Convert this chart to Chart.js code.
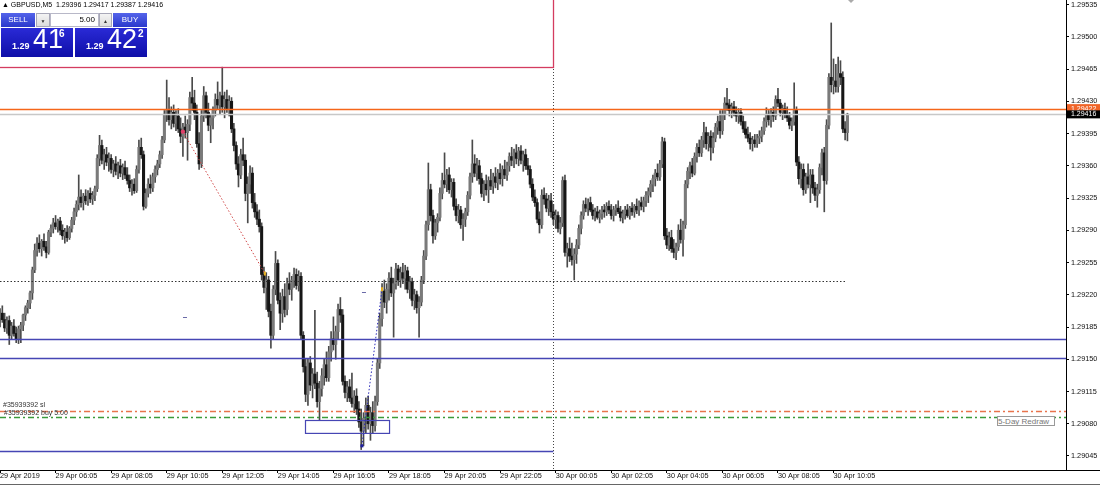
<!DOCTYPE html>
<html>
<head>
<meta charset="utf-8">
<title>GBPUSD,M5</title>
<script src="https://cdn.jsdelivr.net/npm/chart.js@4.4.1/dist/chart.umd.min.js"></script>
<style>
  body { margin: 0; background: #fff; }
  #wrap { position: relative; width: 1100px; height: 485px; overflow: hidden; font-family: "Liberation Sans", Arial, sans-serif; }
  #c { position: absolute; left: 0; top: 0; }
  .t { position: absolute; white-space: nowrap; }
  #hdr { left: 2px; top: 0; font-size: 7px; line-height: 10px; color: #000; }
  .btn { position: absolute; top: 13px; height: 14px; line-height: 14px; font-size: 8px; text-align: center; }
  .blue { background: linear-gradient(#5464ea, #2a38cc); color: #fff; }
  .grey { background: linear-gradient(#f4f4f4, #dcdcdc); color: #333; border: 1px solid #a8a8b8; box-sizing: border-box; font-size: 5px; }
  .pbox { position: absolute; top: 28px; width: 72px; height: 29px; background: linear-gradient(#2a2ad6, #0e0ea8); color: #fff; }
  .pbox .s { position: absolute; left: 11px; top: 13px; font-size: 9px; font-weight: bold; line-height: 10px; }
  .pbox .b { position: absolute; left: 32px; top: -2px; font-size: 27px; line-height: 27px; }
  .pbox .p { position: absolute; top: 1px; font-size: 10px; line-height: 10px; font-weight: bold; }
  #redraw { left: 997px; top: 416px; width: 58px; height: 10px; border: 1px solid #999; box-sizing: border-box; font-size: 8px; line-height: 9px; color: #777; background: #fff; overflow: hidden; }
  #foot { position: absolute; left: 0; top: 484px; width: 1100px; height: 1px; background: #666; }
</style>
</head>
<body>
<div id="wrap">
  <canvas id="c" width="1100" height="485"></canvas>
  <div class="t" id="hdr">▲ GBPUSD,M5&nbsp; 1.29396 1.29417 1.29387 1.29416</div>
  <div class="btn blue" style="left:1px;width:34px;">SELL</div>
  <div class="btn grey" style="left:36px;width:14px;">▼</div>
  <div class="btn" style="left:50px;width:49px;background:#fff;border:1px solid #b8b8c8;box-sizing:border-box;text-align:right;padding-right:3px;color:#000;line-height:12px;">5.00</div>
  <div class="btn grey" style="left:99px;width:13px;">▲</div>
  <div class="btn blue" style="left:113px;width:34px;">BUY</div>
  <div class="pbox" style="left:1px;"><span class="s">1.29</span><span class="b">41</span><span class="p" style="left:58px;">6</span></div>
  <div class="pbox" style="left:75px;"><span class="s">1.29</span><span class="b">42</span><span class="p" style="left:63px;">2</span></div>
  <div class="t" id="redraw">5-Day Redraw</div>
  <div id="foot"></div>
</div>
<script>
// GBPUSD M5, 29 Apr 2019 04:05 -> 30 Apr 2019 10:35 (one entry per bar)
const opens = [
1.29195,1.29200,1.29193,1.29184,1.29192,1.29176,1.29186,1.29178,1.29172,1.29183,
1.29187,1.29198,1.29206,1.29211,1.29222,1.29247,1.29268,1.29276,1.29270,1.29278,
1.29272,1.29266,1.29288,1.29292,1.29298,1.29294,1.29300,1.29290,1.29284,1.29288,
1.29282,1.29292,1.29301,1.29310,1.29318,1.29326,1.29320,1.29327,1.29322,1.29330,
1.29324,1.29328,1.29335,1.29368,1.29382,1.29366,1.29372,1.29364,1.29368,1.29356,
1.29362,1.29354,1.29360,1.29352,1.29358,1.29350,1.29344,1.29336,1.29340,1.29333,
1.29356,1.29380,1.29372,1.29316,1.29330,1.29340,1.29336,1.29348,1.29356,1.29362,
1.29372,1.29388,1.29416,1.29420,1.29410,1.29418,1.29406,1.29414,1.29400,1.29392,
1.29402,1.29396,1.29405,1.29434,1.29428,1.29418,1.29384,1.29362,1.29414,1.29436,
1.29418,1.29404,1.29412,1.29420,1.29432,1.29426,1.29436,1.29424,1.29432,1.29422,
1.29430,1.29400,1.29382,1.29362,1.29350,1.29372,1.29366,1.29330,1.29340,1.29352,
1.29320,1.29310,1.29302,1.29294,1.29242,1.29228,1.29236,1.29202,1.29176,1.29226,
1.29254,1.29214,1.29200,1.29218,1.29204,1.29232,1.29226,1.29236,1.29242,1.29230,
1.29240,1.29176,1.29142,1.29112,1.29146,1.29122,1.29134,1.29124,1.29104,1.29118,
1.29132,1.29144,1.29130,1.29158,1.29172,1.29166,1.29180,1.29204,1.29198,1.29126,
1.29114,1.29120,1.29108,1.29102,1.29110,1.29096,1.29082,1.29072,1.29086,1.29100,
1.29080,1.29092,1.29078,1.29104,1.29146,1.29194,1.29224,1.29212,1.29226,1.29238,
1.29222,1.29232,1.29248,1.29236,1.29244,1.29238,1.29246,1.29226,1.29234,1.29214,
1.29220,1.29206,1.29212,1.29236,1.29262,1.29296,1.29334,1.29306,1.29284,1.29298,
1.29304,1.29330,1.29344,1.29340,1.29350,1.29334,1.29342,1.29316,1.29306,1.29312,
1.29296,1.29302,1.29310,1.29328,1.29348,1.29362,1.29352,1.29360,1.29346,1.29330,
1.29340,1.29334,1.29344,1.29338,1.29348,1.29342,1.29352,1.29346,1.29356,1.29350,
1.29360,1.29370,1.29366,1.29374,1.29368,1.29376,1.29366,1.29372,1.29360,1.29356,
1.29340,1.29326,1.29320,1.29302,1.29296,1.29328,1.29324,1.29314,1.29322,1.29310,
1.29302,1.29306,1.29292,1.29298,1.29344,1.29266,1.29270,1.29262,1.29258,1.29264,
1.29274,1.29292,1.29306,1.29318,1.29314,1.29320,1.29312,1.29306,1.29310,1.29304,
1.29308,1.29312,1.29310,1.29316,1.29312,1.29306,1.29312,1.29314,1.29310,1.29304,
1.29308,1.29312,1.29306,1.29314,1.29310,1.29316,1.29312,1.29320,1.29316,1.29322,
1.29328,1.29332,1.29340,1.29346,1.29352,1.29348,1.29362,1.29386,1.29284,1.29274,
1.29282,1.29270,1.29266,1.29272,1.29290,1.29280,1.29296,1.29340,1.29354,1.29360,
1.29352,1.29370,1.29380,1.29374,1.29388,1.29396,1.29384,1.29392,1.29380,1.29390,
1.29402,1.29408,1.29398,1.29416,1.29428,1.29426,1.29420,1.29424,1.29418,1.29414,
1.29418,1.29408,1.29400,1.29394,1.29390,1.29384,1.29388,1.29384,1.29390,1.29392,
1.29398,1.29408,1.29416,1.29410,1.29418,1.29414,1.29432,1.29428,1.29418,1.29422,
1.29416,1.29412,1.29404,1.29408,1.29420,1.29364,1.29346,1.29356,1.29334,1.29348,
1.29340,1.29350,1.29336,1.29328,1.29334,1.29358,1.29374,1.29344,1.29404,1.29456,
1.29448,1.29452,1.29446,1.29460,1.29456,1.29400,1.29396
];
const highs = [
1.29205,1.29208,1.29200,1.29196,1.29197,1.29190,1.29193,1.29185,1.29186,1.29190,
1.29199,1.29208,1.29214,1.29224,1.29250,1.29275,1.29282,1.29285,1.29280,1.29286,
1.29278,1.29290,1.29296,1.29303,1.29306,1.29302,1.29304,1.29296,1.29292,1.29295,
1.29294,1.29304,1.29314,1.29322,1.29350,1.29334,1.29330,1.29334,1.29333,1.29336,
1.29332,1.29338,1.29372,1.29393,1.29388,1.29378,1.29380,1.29374,1.29372,1.29366,
1.29370,1.29364,1.29367,1.29362,1.29365,1.29358,1.29350,1.29345,1.29346,1.29360,
1.29388,1.29390,1.29376,1.29335,1.29346,1.29350,1.29352,1.29360,1.29366,1.29376,
1.29392,1.29420,1.29453,1.29434,1.29424,1.29426,1.29420,1.29422,1.29412,1.29406,
1.29414,1.29410,1.29440,1.29456,1.29442,1.29426,1.29396,1.29420,1.29446,1.29440,
1.29428,1.29416,1.29424,1.29438,1.29451,1.29440,1.29467,1.29440,1.29442,1.29436,
1.29434,1.29406,1.29386,1.29370,1.29378,1.29390,1.29372,1.29348,1.29360,1.29358,
1.29330,1.29318,1.29312,1.29298,1.29250,1.29244,1.29240,1.29210,1.29230,1.29267,
1.29258,1.29222,1.29226,1.29232,1.29238,1.29244,1.29240,1.29249,1.29248,1.29246,
1.29244,1.29180,1.29150,1.29150,1.29153,1.29140,1.29203,1.29136,1.29126,1.29140,
1.29150,1.29158,1.29164,1.29180,1.29196,1.29186,1.29210,1.29217,1.29204,1.29132,
1.29126,1.29128,1.29135,1.29116,1.29118,1.29104,1.29096,1.29092,1.29108,1.29110,
1.29098,1.29104,1.29110,1.29150,1.29200,1.29232,1.29236,1.29232,1.29244,1.29250,
1.29238,1.29254,1.29252,1.29250,1.29254,1.29252,1.29250,1.29240,1.29238,1.29226,
1.29224,1.29218,1.29240,1.29268,1.29300,1.29363,1.29340,1.29312,1.29302,1.29308,
1.29336,1.29352,1.29374,1.29356,1.29358,1.29346,1.29346,1.29324,1.29318,1.29316,
1.29308,1.29314,1.29332,1.29352,1.29388,1.29372,1.29368,1.29366,1.29352,1.29344,
1.29350,1.29348,1.29356,1.29352,1.29358,1.29356,1.29362,1.29360,1.29366,1.29364,
1.29374,1.29380,1.29378,1.29383,1.29380,1.29382,1.29376,1.29378,1.29368,1.29360,
1.29346,1.29334,1.29324,1.29310,1.29334,1.29336,1.29330,1.29328,1.29330,1.29318,
1.29312,1.29310,1.29304,1.29348,1.29350,1.29276,1.29282,1.29276,1.29270,1.29280,
1.29296,1.29310,1.29322,1.29325,1.29324,1.29326,1.29318,1.29314,1.29316,1.29312,
1.29316,1.29318,1.29320,1.29322,1.29318,1.29316,1.29318,1.29322,1.29316,1.29312,
1.29316,1.29318,1.29316,1.29320,1.29318,1.29324,1.29322,1.29326,1.29326,1.29332,
1.29336,1.29344,1.29350,1.29356,1.29362,1.29366,1.29391,1.29390,1.29292,1.29288,
1.29290,1.29280,1.29276,1.29296,1.29302,1.29300,1.29344,1.29358,1.29364,1.29368,
1.29374,1.29384,1.29388,1.29392,1.29407,1.29402,1.29396,1.29398,1.29396,1.29406,
1.29414,1.29420,1.29420,1.29434,1.29444,1.29432,1.29428,1.29430,1.29424,1.29422,
1.29422,1.29414,1.29408,1.29402,1.29396,1.29392,1.29394,1.29394,1.29398,1.29402,
1.29412,1.29423,1.29420,1.29422,1.29424,1.29436,1.29444,1.29432,1.29426,1.29428,
1.29424,1.29418,1.29412,1.29450,1.29424,1.29370,1.29362,1.29362,1.29352,1.29362,
1.29356,1.29356,1.29342,1.29340,1.29362,1.29378,1.29380,1.29410,1.29460,1.29515,
1.29476,1.29470,1.29478,1.29474,1.29462,1.29408,1.29417
];
const lows = [
1.29185,1.29190,1.29180,1.29178,1.29166,1.29172,1.29175,1.29168,1.29167,1.29168,
1.29181,1.29192,1.29200,1.29205,1.29215,1.29244,1.29262,1.29266,1.29262,1.29268,
1.29260,1.29264,1.29283,1.29287,1.29291,1.29288,1.29285,1.29280,1.29276,1.29278,
1.29280,1.29288,1.29296,1.29305,1.29312,1.29315,1.29312,1.29318,1.29317,1.29320,
1.29318,1.29322,1.29332,1.29360,1.29362,1.29356,1.29360,1.29354,1.29352,1.29348,
1.29350,1.29346,1.29348,1.29345,1.29346,1.29340,1.29332,1.29328,1.29330,1.29331,
1.29352,1.29368,1.29312,1.29314,1.29326,1.29330,1.29332,1.29342,1.29350,1.29358,
1.29368,1.29385,1.29408,1.29404,1.29400,1.29402,1.29398,1.29396,1.29385,1.29370,
1.29390,1.29366,1.29398,1.29420,1.29410,1.29380,1.29356,1.29358,1.29408,1.29412,
1.29398,1.29385,1.29400,1.29414,1.29422,1.29416,1.29418,1.29412,1.29418,1.29414,
1.29396,1.29376,1.29356,1.29337,1.29346,1.29360,1.29322,1.29298,1.29330,1.29314,
1.29304,1.29296,1.29288,1.29236,1.29222,1.29204,1.29196,1.29162,1.29172,1.29220,
1.29210,1.29182,1.29190,1.29196,1.29198,1.29220,1.29214,1.29228,1.29226,1.29224,
1.29172,1.29136,1.29104,1.29100,1.29116,1.29108,1.29118,1.29098,1.29084,1.29110,
1.29122,1.29126,1.29126,1.29148,1.29160,1.29150,1.29172,1.29190,1.29122,1.29108,
1.29104,1.29104,1.29098,1.29092,1.29090,1.29076,1.29052,1.29056,1.29070,1.29074,
1.29062,1.29070,1.29072,1.29100,1.29140,1.29186,1.29206,1.29200,1.29214,1.29218,
1.29174,1.29226,1.29230,1.29228,1.29232,1.29226,1.29222,1.29216,1.29208,1.29204,
1.29200,1.29174,1.29208,1.29232,1.29258,1.29290,1.29300,1.29276,1.29280,1.29288,
1.29300,1.29324,1.29336,1.29332,1.29330,1.29326,1.29312,1.29300,1.29298,1.29292,
1.29279,1.29294,1.29306,1.29324,1.29342,1.29348,1.29344,1.29340,1.29326,1.29322,
1.29328,1.29320,1.29334,1.29330,1.29336,1.29334,1.29340,1.29338,1.29346,1.29344,
1.29354,1.29360,1.29358,1.29362,1.29360,1.29362,1.29354,1.29356,1.29350,1.29336,
1.29322,1.29316,1.29298,1.29287,1.29292,1.29318,1.29310,1.29306,1.29304,1.29296,
1.29292,1.29288,1.29286,1.29294,1.29262,1.29250,1.29256,1.29252,1.29236,1.29254,
1.29270,1.29286,1.29302,1.29310,1.29306,1.29310,1.29302,1.29300,1.29302,1.29298,
1.29302,1.29304,1.29306,1.29308,1.29302,1.29300,1.29306,1.29308,1.29300,1.29298,
1.29302,1.29304,1.29302,1.29306,1.29304,1.29308,1.29306,1.29312,1.29310,1.29316,
1.29320,1.29326,1.29332,1.29338,1.29344,1.29344,1.29358,1.29280,1.29270,1.29268,
1.29266,1.29260,1.29258,1.29268,1.29276,1.29262,1.29292,1.29336,1.29346,1.29348,
1.29350,1.29364,1.29370,1.29370,1.29380,1.29378,1.29376,1.29366,1.29374,1.29386,
1.29394,1.29390,1.29394,1.29410,1.29420,1.29414,1.29412,1.29414,1.29408,1.29406,
1.29404,1.29396,1.29390,1.29386,1.29378,1.29376,1.29380,1.29380,1.29384,1.29386,
1.29394,1.29402,1.29404,1.29402,1.29408,1.29410,1.29424,1.29414,1.29410,1.29412,
1.29408,1.29400,1.29398,1.29404,1.29360,1.29340,1.29336,1.29328,1.29330,1.29336,
1.29320,1.29330,1.29322,1.29315,1.29330,1.29350,1.29310,1.29340,1.29400,1.29440,
1.29438,1.29440,1.29440,1.29448,1.29396,1.29388,1.29387
];
const closes = [
1.29200,1.29193,1.29184,1.29192,1.29176,1.29186,1.29178,1.29172,1.29183,1.29187,
1.29198,1.29206,1.29211,1.29222,1.29247,1.29268,1.29276,1.29270,1.29278,1.29272,
1.29266,1.29288,1.29292,1.29298,1.29294,1.29300,1.29290,1.29284,1.29288,1.29282,
1.29292,1.29301,1.29310,1.29318,1.29326,1.29320,1.29327,1.29322,1.29330,1.29324,
1.29328,1.29335,1.29368,1.29382,1.29366,1.29372,1.29364,1.29368,1.29356,1.29362,
1.29354,1.29360,1.29352,1.29358,1.29350,1.29344,1.29336,1.29340,1.29333,1.29356,
1.29380,1.29372,1.29316,1.29330,1.29340,1.29336,1.29348,1.29356,1.29362,1.29372,
1.29388,1.29416,1.29420,1.29410,1.29418,1.29406,1.29414,1.29400,1.29392,1.29402,
1.29396,1.29405,1.29434,1.29428,1.29418,1.29384,1.29362,1.29414,1.29436,1.29418,
1.29404,1.29412,1.29420,1.29432,1.29426,1.29436,1.29424,1.29432,1.29422,1.29430,
1.29400,1.29382,1.29362,1.29350,1.29372,1.29366,1.29330,1.29340,1.29352,1.29320,
1.29310,1.29302,1.29294,1.29242,1.29228,1.29236,1.29202,1.29176,1.29226,1.29254,
1.29214,1.29200,1.29218,1.29204,1.29232,1.29226,1.29236,1.29242,1.29230,1.29240,
1.29176,1.29142,1.29112,1.29146,1.29122,1.29134,1.29124,1.29104,1.29118,1.29132,
1.29144,1.29130,1.29158,1.29172,1.29166,1.29180,1.29204,1.29198,1.29126,1.29114,
1.29120,1.29108,1.29102,1.29110,1.29096,1.29082,1.29072,1.29086,1.29100,1.29080,
1.29092,1.29078,1.29104,1.29146,1.29194,1.29224,1.29212,1.29226,1.29238,1.29222,
1.29232,1.29248,1.29236,1.29244,1.29238,1.29246,1.29226,1.29234,1.29214,1.29220,
1.29206,1.29212,1.29236,1.29262,1.29296,1.29334,1.29306,1.29284,1.29298,1.29304,
1.29330,1.29344,1.29340,1.29350,1.29334,1.29342,1.29316,1.29306,1.29312,1.29296,
1.29302,1.29310,1.29328,1.29348,1.29362,1.29352,1.29360,1.29346,1.29330,1.29340,
1.29334,1.29344,1.29338,1.29348,1.29342,1.29352,1.29346,1.29356,1.29350,1.29360,
1.29370,1.29366,1.29374,1.29368,1.29376,1.29366,1.29372,1.29360,1.29356,1.29340,
1.29326,1.29320,1.29302,1.29296,1.29328,1.29324,1.29314,1.29322,1.29310,1.29302,
1.29306,1.29292,1.29298,1.29344,1.29266,1.29270,1.29262,1.29258,1.29264,1.29274,
1.29292,1.29306,1.29318,1.29314,1.29320,1.29312,1.29306,1.29310,1.29304,1.29308,
1.29312,1.29310,1.29316,1.29312,1.29306,1.29312,1.29314,1.29310,1.29304,1.29308,
1.29312,1.29306,1.29314,1.29310,1.29316,1.29312,1.29320,1.29316,1.29322,1.29328,
1.29332,1.29340,1.29346,1.29352,1.29348,1.29362,1.29386,1.29284,1.29274,1.29282,
1.29270,1.29266,1.29272,1.29290,1.29280,1.29296,1.29340,1.29354,1.29360,1.29352,
1.29370,1.29380,1.29374,1.29388,1.29396,1.29384,1.29392,1.29380,1.29390,1.29402,
1.29408,1.29398,1.29416,1.29428,1.29426,1.29420,1.29424,1.29418,1.29414,1.29418,
1.29408,1.29400,1.29394,1.29390,1.29384,1.29388,1.29384,1.29390,1.29392,1.29398,
1.29408,1.29416,1.29410,1.29418,1.29414,1.29432,1.29428,1.29418,1.29422,1.29416,
1.29412,1.29404,1.29408,1.29420,1.29364,1.29346,1.29356,1.29334,1.29348,1.29340,
1.29350,1.29336,1.29328,1.29334,1.29358,1.29374,1.29344,1.29404,1.29456,1.29448,
1.29452,1.29446,1.29460,1.29456,1.29400,1.29396,1.29416
];

// axis ticks
const timeTickIdx = [0, 24, 48, 72, 96, 120, 144, 168, 192, 216, 240, 264, 288, 312, 336, 360];
const timeLabels = ['29 Apr 2019', '29 Apr 06:05', '29 Apr 08:05', '29 Apr 10:05', '29 Apr 12:05',
  '29 Apr 14:05', '29 Apr 16:05', '29 Apr 18:05', '29 Apr 20:05', '29 Apr 22:05', '30 Apr 00:05',
  '30 Apr 02:05', '30 Apr 04:05', '30 Apr 06:05', '30 Apr 08:05', '30 Apr 10:05'];
const priceTicks = [1.29045, 1.29080, 1.29115, 1.29150, 1.29185, 1.29220, 1.29255, 1.29290,
  1.29325, 1.29360, 1.29395, 1.29430, 1.29465, 1.29500, 1.29535];

// objects on the chart (bar index / price)
const supportLevels = [1.29172, 1.29151];
const prevDayLow = 1.29050;
const dayStart = 239;            // 30 Apr 00:00
const lastBar = 365;
const pivotLevel = 1.29235;
const rangeBoxLow = 1.294675;
const askPrice = 1.29422;
const bidPrice = 1.29416;
const slPrice = 1.29094;
const entryPrice = 1.29087;
const zoneBox = [131.7, 168, 1.29084, 1.29070];
const sellTrade = [[79, 1.29397], [114.4, 1.29243]];
const buyTrade = [[156.3, 1.29056], [165, 1.29226]];
const closeMarks = [[79.9, 1.29196], [157.2, 1.29223]];

const font = { family: 'Liberation Sans', size: 7.3 };

function hline(ctx, x0, x1, y, color, w, dash) {
  ctx.save();
  ctx.strokeStyle = color;
  ctx.lineWidth = w;
  ctx.setLineDash(dash || []);
  ctx.beginPath();
  ctx.moveTo(x0, y);
  ctx.lineTo(x1, y);
  ctx.stroke();
  ctx.restore();
}

const overlay = {
  id: 'overlay',
  afterDatasetsDraw(chart) {
    const { ctx, chartArea: a } = chart;
    const X = v => chart.scales.x.getPixelForValue(v);
    const Y = v => chart.scales.y.getPixelForValue(v);
    const snap = v => Math.round(v) + 0.5;
    ctx.save();
    ctx.beginPath();
    ctx.rect(a.left, a.top, a.right - a.left, a.bottom - a.top);
    ctx.clip();

    // day separator
    ctx.save();
    ctx.strokeStyle = '#444';
    ctx.setLineDash([1, 2]);
    ctx.beginPath();
    ctx.moveTo(snap(X(dayStart)), a.top);
    ctx.lineTo(snap(X(dayStart)), a.bottom);
    ctx.stroke();
    ctx.restore();

    // range box of the previous day
    ctx.save();
    ctx.strokeStyle = '#d43c60';
    ctx.lineWidth = 1.3;
    ctx.strokeRect(-5, -5, snap(X(dayStart)) + 5, snap(Y(rangeBoxLow)) + 5);
    ctx.restore();

    hline(ctx, a.left, X(dayStart), snap(Y(prevDayLow)), '#4646b4', 1.5);
    supportLevels.forEach(p => hline(ctx, a.left, a.right, snap(Y(p)), '#4646b4', 1.5));
    hline(ctx, X(0), X(lastBar), snap(Y(pivotLevel)), '#333', 1, [1.5, 2]);

    hline(ctx, a.left, a.right, snap(Y(bidPrice)), '#c8c8c8', 1.5);
    hline(ctx, a.left, a.right, snap(Y(askPrice)), '#f5661a', 1.4);
    hline(ctx, a.left, a.right, snap(Y(slPrice)), '#e8734c', 1.3, [6, 3, 2, 3]);
    hline(ctx, a.left, a.right, snap(Y(entryPrice)), '#3a9a3a', 1.3, [6, 3, 2, 3]);

    // zone box
    ctx.save();
    ctx.strokeStyle = '#4646b4';
    ctx.lineWidth = 1.2;
    ctx.strokeRect(snap(X(zoneBox[0])), snap(Y(zoneBox[2])), X(zoneBox[1]) - X(zoneBox[0]), Y(zoneBox[3]) - Y(zoneBox[2]));
    ctx.restore();

    // closed trades
    [[sellTrade, '#d04848'], [buyTrade, '#2a2ab8']].forEach(([t, col]) => {
      ctx.save();
      ctx.strokeStyle = col;
      ctx.setLineDash([1.5, 2]);
      ctx.beginPath();
      ctx.moveTo(X(t[0][0]), Y(t[0][1]));
      ctx.lineTo(X(t[1][0]), Y(t[1][1]));
      ctx.stroke();
      ctx.restore();
      ctx.fillStyle = '#e8b020';
      ctx.fillRect(X(t[1][0]) - 1, Y(t[1][1]) - 2, 2, 4);
    });
    ctx.fillStyle = '#e0406a';
    ctx.beginPath();
    ctx.arc(X(sellTrade[0][0]), Y(sellTrade[0][1]), 2.2, 0, Math.PI * 2);
    ctx.fill();
    ctx.fillStyle = '#2020a0';
    ctx.fillRect(X(buyTrade[0][0]) - 1.5, Y(buyTrade[0][1]) - 1.5, 3, 3);
    closeMarks.forEach(([i, p]) => hline(ctx, X(i) - 2, X(i) + 2, snap(Y(p)), '#6a6aa8', 1));

    // order labels
    ctx.fillStyle = '#333';
    ctx.font = '7px "Liberation Sans"';
    ctx.textBaseline = 'bottom';
    ctx.fillText('#35939392 sl', 3, Y(slPrice) - 2);
    ctx.fillText('#35939392 buy 5.00', 4, Y(entryPrice) - 0.5);

    // chart shift marker
    ctx.fillStyle = '#aaa';
    ctx.beginPath();
    ctx.moveTo(848, 0);
    ctx.lineTo(854, 0);
    ctx.lineTo(851, 3);
    ctx.fill();
    ctx.restore();
  },
  afterDraw(chart) {
    const { ctx, chartArea: a } = chart;
    const Y = v => chart.scales.y.getPixelForValue(v);
    ctx.save();
    ctx.font = '7px "Liberation Sans"';
    ctx.textBaseline = 'middle';
    const ya = Y(askPrice), yb = Y(bidPrice);
    ctx.fillStyle = '#f06428';
    ctx.fillRect(a.right + 1, ya - 4.5, 33, 9);
    ctx.fillStyle = '#fff';
    ctx.fillText(askPrice.toFixed(5), a.right + 5, ya);
    ctx.fillStyle = '#000';
    ctx.fillRect(a.right + 1, yb - 3.8, 33, 8);
    ctx.fillStyle = '#fff';
    ctx.fillText(bidPrice.toFixed(5), a.right + 5, yb + 0.2);
    hline(ctx, a.right, 1100, Math.round(a.bottom) + 0.5, '#000', 1);
    ctx.restore();
  }
};

const isUp = i => closes[i] >= opens[i];

new Chart(document.getElementById('c'), {
  type: 'bar',
  data: {
    datasets: [
      {
        data: opens.map((o, i) => ({ x: i, y: [o, closes[i]] })),
        backgroundColor: ctx => isUp(ctx.dataIndex) ? '#7a7a7a' : '#161616',
        barThickness: 2.4,
        minBarLength: 1,
        grouped: false,
        order: 1
      },
      {
        data: lows.map((l, i) => ({ x: i, y: [l, highs[i]] })),
        backgroundColor: '#4a4a4a',
        barThickness: 1,
        grouped: false,
        order: 2
      }
    ]
  },
  options: {
    responsive: false,
    devicePixelRatio: 1,
    animation: false,
    layout: { padding: 0 },
    plugins: { legend: { display: false }, tooltip: { enabled: false } },
    scales: {
      x: {
        type: 'linear',
        min: 0,
        max: 460.4,
        offset: false,
        bounds: 'data',
        grid: { offset: false, drawOnChartArea: false, tickLength: 3, color: '#000' },
        border: { color: '#000' },
        ticks: {
          autoSkip: false, maxRotation: 0, align: 'start', padding: -1,
          color: '#111', font: font,
          callback: (v, i) => timeLabels[i]
        },
        afterBuildTicks: s => { s.ticks = timeTickIdx.map(v => ({ value: v })); },
        afterFit: s => { s.height = 15; s.paddingLeft = 0; s.paddingRight = 0; }
      },
      y: {
        type: 'linear',
        position: 'right',
        min: 1.290298,
        max: 1.295399,
        bounds: 'data',
        grid: { drawOnChartArea: false, tickLength: 3, color: '#000' },
        border: { color: '#000' },
        ticks: { padding: 2, color: '#111', font: font, callback: v => v.toFixed(5) },
        afterBuildTicks: s => { s.ticks = priceTicks.map(v => ({ value: v })); },
        afterFit: s => { s.width = 34; s.paddingTop = 0; s.paddingBottom = 0; }
      }
    }
  },
  plugins: [overlay]
});
</script>
</body>
</html>
